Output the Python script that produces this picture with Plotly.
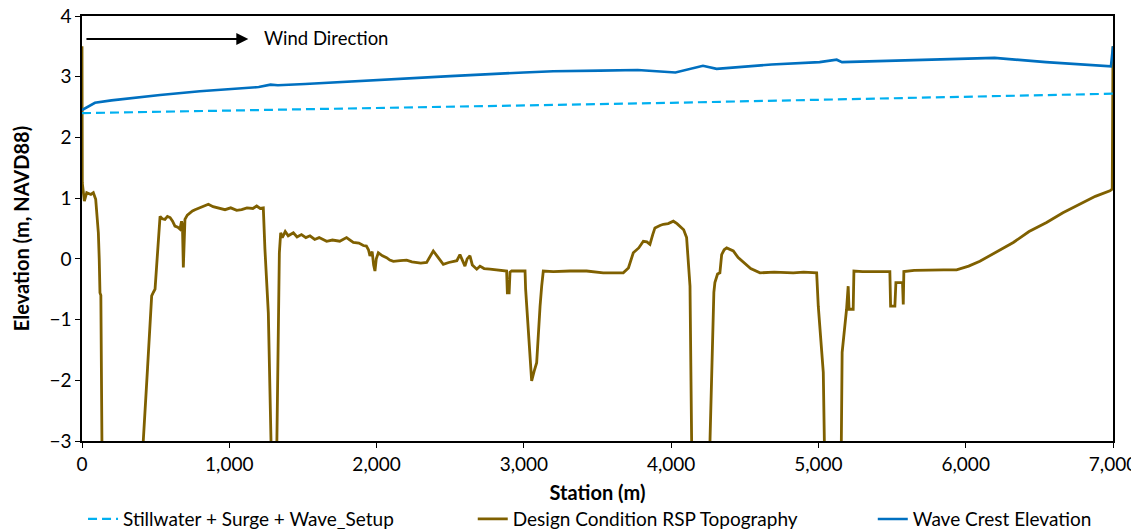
import plotly.graph_objects as go

# ---------------- data ----------------
topo_x = [0, 2, 16, 25, 32, 60, 77, 93, 111, 117, 122, 128, 134, 140, 400, 416, 445, 473, 485, 496,
          510, 530, 545, 563, 580, 598, 615, 631, 650, 665, 676, 682, 688, 694, 699, 715, 733, 750,
          767, 800, 830, 858, 890, 930, 971, 1010, 1050, 1084, 1120, 1160, 1186, 1210, 1231, 1242,
          1250, 1258, 1265, 1283, 1290, 1315, 1322, 1333, 1340, 1349, 1360, 1380, 1400, 1435, 1460,
          1490, 1520, 1548, 1580, 1610, 1661, 1700, 1750, 1796, 1842, 1880, 1910, 1931, 1945, 1955,
          1970, 1980, 1989, 1998, 2012, 2040, 2068, 2090, 2114, 2160, 2204, 2240, 2272, 2300, 2340,
          2365, 2385, 2410, 2430, 2453, 2490, 2521, 2545, 2566, 2580, 2600, 2615, 2634, 2650, 2668,
          2680, 2702, 2730, 2770, 2830, 2883, 2888, 2900, 2906, 2917, 2960, 3008, 3012, 3019, 3053,
          3070, 3087, 3110, 3115, 3121, 3132, 3200, 3313, 3426, 3539, 3675, 3710, 3743, 3780, 3811,
          3835, 3856, 3875, 3890, 3924, 3947, 3980, 4015, 4040, 4060, 4085, 4105, 4128, 4139, 4145,
          4255, 4264, 4290, 4297, 4315, 4331, 4343, 4360, 4377, 4400, 4422, 4455, 4490, 4540, 4603,
          4700, 4829, 4900, 4988, 4999, 5033, 5044, 5050, 5150, 5157, 5161, 5191, 5202, 5208, 5236,
          5241, 5300, 5400, 5485, 5490, 5519, 5526, 5571, 5576, 5580, 5650, 5757, 5850, 5938, 6020,
          6096, 6200, 6323, 6430, 6549, 6660, 6775, 6880, 6979, 6995, 7000]
topo_y = [3.50, 1.25, 0.95, 1.05, 1.09, 1.06, 1.09, 0.98, 0.43, 0.00, -0.56, -0.60, -2.97, -4.5, -4.5,
          -3.0, -1.8, -0.61, -0.55, -0.50, 0.00, 0.70, 0.66, 0.65, 0.70, 0.68, 0.62, 0.54, 0.52, 0.49,
          0.62, 0.55, -0.14, 0.20, 0.65, 0.72, 0.76, 0.79, 0.81, 0.84, 0.87, 0.90, 0.86, 0.84, 0.81,
          0.84, 0.80, 0.81, 0.84, 0.83, 0.87, 0.83, 0.84, 0.16, -0.20, -0.56, -0.89, -2.97, -4.5, -4.5,
          -3.0, -0.56, 0.10, 0.43, 0.35, 0.45, 0.38, 0.43, 0.36, 0.40, 0.35, 0.38, 0.32, 0.35, 0.29,
          0.31, 0.29, 0.35, 0.27, 0.26, 0.22, 0.21, 0.15, 0.05, 0.12, -0.10, -0.20, 0.00, 0.10, 0.05,
          0.02, -0.02, -0.04, -0.03, -0.02, -0.05, -0.06, -0.07, -0.06, 0.05, 0.13, 0.05, -0.01, -0.09,
          -0.06, -0.04, -0.03, 0.07, -0.02, -0.12, 0.00, 0.05, -0.10, -0.14, -0.17, -0.12, -0.16, -0.17,
          -0.19, -0.20, -0.56, -0.56, -0.22, -0.20, -0.20, -0.20, -0.50, -0.78, -2.01, -1.85, -1.71,
          -0.78, -0.55, -0.45, -0.20, -0.21, -0.20, -0.20, -0.23, -0.23, -0.15, 0.10, 0.18, 0.29, 0.28,
          0.24, 0.40, 0.51, 0.55, 0.57, 0.58, 0.62, 0.58, 0.54, 0.48, 0.35, -0.45, -2.97, -4.5, -4.5,
          -2.97, -0.55, -0.39, -0.25, -0.23, 0.07, 0.15, 0.18, 0.16, 0.13, 0.02, -0.06, -0.16, -0.23,
          -0.22, -0.23, -0.22, -0.23, -0.78, -1.87, -2.97, -4.5, -4.5, -2.97, -1.54, -0.83, -0.45, -0.83,
          -0.83, -0.20, -0.21, -0.21, -0.21, -0.78, -0.78, -0.39, -0.39, -0.75, -0.21, -0.19, -0.18,
          -0.18, -0.18, -0.12, -0.04, 0.10, 0.27, 0.45, 0.60, 0.76, 0.90, 1.03, 1.12, 1.15, 3.50]

swl_x = [0, 1000, 2000, 3000, 4000, 5000, 6000, 7000]
swl_y = [2.40, 2.44, 2.48, 2.52, 2.57, 2.62, 2.67, 2.72]

crest_x = [0, 40, 88, 200, 530, 800, 1000, 1200, 1280, 1330, 1515, 2000, 2500, 3000, 3200, 3517,
           3773, 4029, 4121, 4216, 4309, 4447, 4682, 5008, 5124, 5160, 5567, 6080, 6196, 6545, 6775,
           6986, 7000]
crest_y = [2.45, 2.50, 2.57, 2.61, 2.70, 2.76, 2.80, 2.83, 2.87, 2.86, 2.88, 2.95, 3.01, 3.07, 3.09,
           3.10, 3.11, 3.07, 3.13, 3.18, 3.13, 3.16, 3.20, 3.24, 3.28, 3.24, 3.27, 3.31, 3.31, 3.24,
           3.20, 3.17, 3.50]

x_ticks = [0, 1000, 2000, 3000, 4000, 5000, 6000, 7000]
y_ticks = [-3, -2, -1, 0, 1, 2, 3, 4]

FONT = "Lato, 'Open Sans', sans-serif"

fig = go.Figure()
fig.add_trace(go.Scatter(x=topo_x, y=topo_y, mode="lines",
                         name="Design Condition RSP Topography", legend="legend2",
                         line=dict(color="#7F6000", width=2.8)))
fig.add_trace(go.Scatter(x=swl_x, y=swl_y, mode="lines",
                         name="Stillwater + Surge + Wave_Setup", legend="legend",
                         line=dict(color="#00B0F0", width=2.2, dash="9px,5px")))
fig.add_trace(go.Scatter(x=crest_x, y=crest_y, mode="lines",
                         name="Wave Crest Elevation", legend="legend3",
                         line=dict(color="#0070C0", width=2.6)))

fig.add_annotation(x=1129, y=3.62, ax=20, ay=3.62, xref="x", yref="y", axref="x", ayref="y",
                   text="", showarrow=True, arrowhead=2, arrowsize=1.2, arrowwidth=2,
                   arrowcolor="black")
fig.add_annotation(x=1660, y=3.64, xref="x", yref="y", text="Wind Direction", showarrow=False,
                   font=dict(family=FONT, size=18.5, color="black"))

LEG_Y = -0.139
leg_common = dict(orientation="h", xanchor="left", y=LEG_Y, yanchor="top",
                  font=dict(family=FONT, size=19, color="black"), bgcolor="rgba(0,0,0,0)")

# page body has an 8px margin: shrink figure so the plot area lands where the reference has it
fig.update_layout(
    width=1131, height=521,
    margin=dict(l=74, r=26, t=8, b=88, autoexpand=False),
    paper_bgcolor="white", plot_bgcolor="white",
    font=dict(family=FONT, size=18, color="black"),
    showlegend=True,
    legend=dict(x=0.001, **leg_common),
    legend2=dict(x=0.379, **leg_common),
    legend3=dict(x=0.767, **leg_common),
    xaxis=dict(range=[0, 7000], tickvals=x_ticks, tickformat=",", ticks="outside", ticklen=5,
               tickcolor="black", showline=True, linecolor="black", linewidth=1.5, mirror=True,
               showgrid=False, zeroline=False, ticklabeloverflow="allow",
               title=dict(text="<b>Station (m)</b>", font=dict(family=FONT, size=20), standoff=12),
               tickfont=dict(family=FONT, size=19)),
    yaxis=dict(range=[-3, 4], tickvals=y_ticks, ticks="outside", ticklen=5, tickcolor="black",
               showline=True, linecolor="black", linewidth=1.5, mirror=True, showgrid=False,
               zeroline=False, ticklabeloverflow="allow",
               title=dict(text="<b>Elevation (m, NAVD88)</b>", font=dict(family=FONT, size=20),
                          standoff=14),
               tickfont=dict(family=FONT, size=19)),
)

fig.write_html("out.html")
